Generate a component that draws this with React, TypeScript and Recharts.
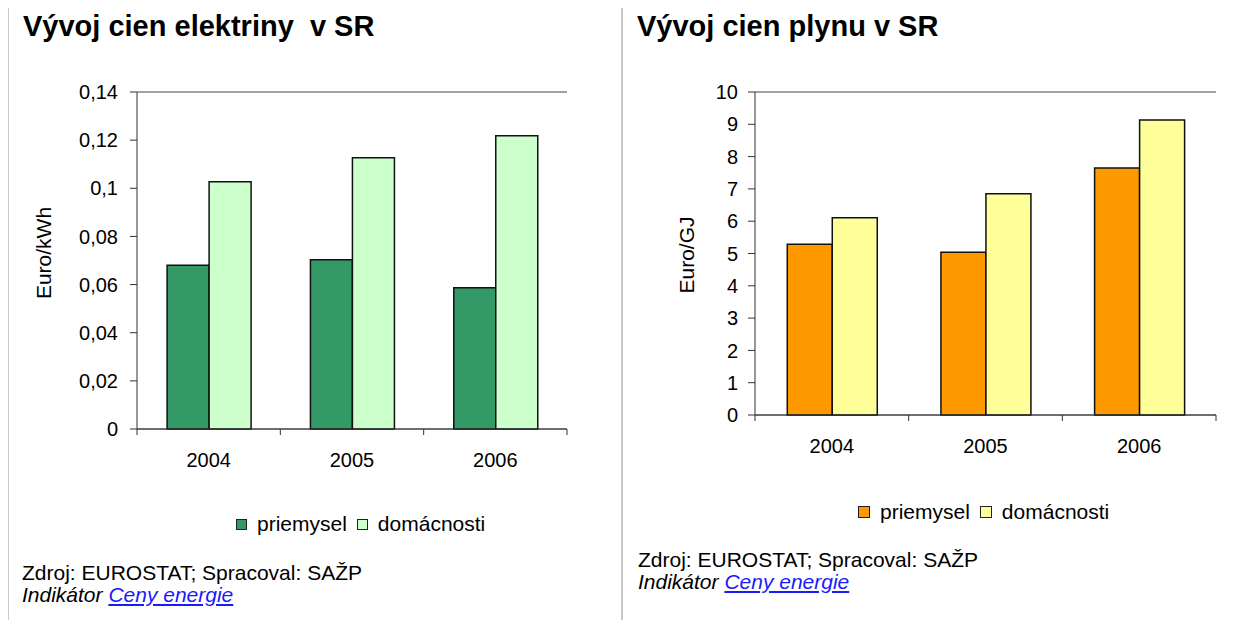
import React from "react";
import { BarChart, Bar, XAxis, YAxis, CartesianGrid, ReferenceLine } from "recharts";

const categories = ["2004", "2005", "2006"];
const seriesNames = ["priemysel", "domácnosti"];

const elPriemysel = [0.068, 0.0703, 0.0587];
const elDomacnosti = [0.1027, 0.1127, 0.1218];
const elTicks = [0, 0.02, 0.04, 0.06, 0.08, 0.1, 0.12, 0.14];

const plynPriemysel = [5.29, 5.04, 7.65];
const plynDomacnosti = [6.11, 6.85, 9.13];
const plynTicks = [0, 1, 2, 3, 4, 5, 6, 7, 8, 9, 10];

const elColors = ["#339966", "#CCFFCC"];
const plynColors = ["#FF9900", "#FFFF99"];

const FONT = "'Liberation Sans', Arial, sans-serif";

const elData = categories.map((c, i) => ({ rok: c, priemysel: elPriemysel[i], domacnosti: elDomacnosti[i] }));
const plynData = categories.map((c, i) => ({ rok: c, priemysel: plynPriemysel[i], domacnosti: plynDomacnosti[i] }));

const commaFmt = (v: number) => String(v).replace(".", ",");

function XTick(props: any) {
  const { x, y, payload, index, visibleTicksCount, width } = props;
  const half = payload && payload.offset ? payload.offset : width / visibleTicksCount / 2;
  const axisY = y - 24;
  return (
    <g>
      <line x1={x - half} x2={x - half} y1={axisY} y2={axisY + 6} stroke="#333" />
      {index === visibleTicksCount - 1 && (
        <line x1={x + half} x2={x + half} y1={axisY} y2={axisY + 6} stroke="#333" />
      )}
      <text x={x} y={y + 14} textAnchor="middle" fontSize={20} fontFamily={FONT} fill="#000">
        {payload.value}
      </text>
    </g>
  );
}

function Legend2({ colors, left, top, box }: { colors: string[]; left: number; top: number; box: number }) {
  return (
    <div
      style={{
        position: "absolute", left, top, height: 24, display: "flex", alignItems: "center",
        fontFamily: FONT, fontSize: 21, color: "#000", whiteSpace: "nowrap",
      }}
    >
      {seriesNames.map((n, i) => (
        <React.Fragment key={n}>
          <span style={{ width: box - 2, height: box - 2, background: colors[i], border: "1px solid #222", marginRight: 10 }} />
          <span style={{ marginRight: 10 }}>{n}</span>
        </React.Fragment>
      ))}
    </div>
  );
}

function Source({ left, top }: { left: number; top: number }) {
  return (
    <div style={{ position: "absolute", left, top, fontFamily: FONT, fontSize: 21, lineHeight: "22px", color: "#000", whiteSpace: "nowrap" }}>
      <div>Zdroj: EUROSTAT; Spracoval: SAŽP</div>
      <div style={{ fontStyle: "italic" }}>
        Indikátor <span style={{ color: "#1a1aff", textDecoration: "underline" }}>Ceny energie</span>
      </div>
    </div>
  );
}

function Panel(props: {
  data: any[]; ticks: number[]; colors: string[]; width: number; margin: any;
  tickMargin: number; fmt: (v: number) => string;
}) {
  const { data, ticks, colors, width, margin, tickMargin, fmt } = props;
  const max = ticks[ticks.length - 1];
  return (
    <BarChart width={width} height={500} data={data} margin={margin} barCategoryGap="21%" barGap={0}>
      <CartesianGrid vertical={false} stroke="#555" />
      <XAxis
        dataKey="rok"
        height={30}
        tickLine={false}
        tickSize={0}
        tickMargin={24}
        axisLine={{ stroke: "#333" }}
        tick={<XTick />}
        interval={0}
      />
      <YAxis
        yAxisId="l"
        width={60}
        domain={[0, max]}
        ticks={ticks}
        interval={0}
        tickFormatter={fmt}
        tickSize={7}
        tickMargin={tickMargin}
        axisLine={{ stroke: "#333" }}
        tickLine={{ stroke: "#333" }}
        tick={{ fill: "#000", fontSize: 20, fontFamily: FONT }}
      />
      <YAxis yAxisId="r" orientation="right" width={0} tick={false} tickLine={false} axisLine={{ stroke: "#999" }} />
      <ReferenceLine yAxisId="l" y={max} stroke="#999" />
      <Bar yAxisId="l" dataKey="priemysel" fill={colors[0]} stroke="#111" strokeWidth={1.5} isAnimationActive={false} />
      <Bar yAxisId="l" dataKey="domacnosti" fill={colors[1]} stroke="#111" strokeWidth={1.5} isAnimationActive={false} />
    </BarChart>
  );
}

const titleStyle: React.CSSProperties = {
  position: "absolute", top: 12, fontFamily: FONT, fontWeight: "bold", fontSize: 29,
  lineHeight: "29px", color: "#000", whiteSpace: "pre",
};

const yLabelStyle: React.CSSProperties = {
  position: "absolute", fontFamily: FONT, fontSize: 21, color: "#000", whiteSpace: "nowrap",
  transform: "translate(-50%, -50%) rotate(-90deg)", lineHeight: "22px",
};

export default function App() {
  return (
    <div style={{ position: "relative", width: 1245, height: 628, margin: -8, background: "#fff", overflow: "hidden" }}>
      <div style={{ position: "absolute", left: 7, top: 5, width: 1238, height: 2, background: "#c8c8c8" }} />
      <div style={{ position: "absolute", left: 7, top: 5, width: 2, height: 623, background: "#c8c8c8" }} />
      <div style={{ position: "absolute", left: 621, top: 5, width: 2, height: 623, background: "#c8c8c8" }} />

      <div style={{ ...titleStyle, left: 23 }}>{"Vývoj cien elektriny  v SR"}</div>
      <div style={{ ...titleStyle, left: 637 }}>Vývoj cien plynu v SR</div>

      <div style={{ position: "absolute", left: 0, top: 0 }}>
        <Panel
          data={elData}
          ticks={elTicks}
          colors={elColors}
          width={600}
          margin={{ top: 92, left: 77, right: 33, bottom: 41 }}
          tickMargin={12}
          fmt={commaFmt}
        />
      </div>
      <div style={{ position: "absolute", left: 622, top: 0 }}>
        <Panel
          data={plynData}
          ticks={plynTicks}
          colors={plynColors}
          width={623}
          margin={{ top: 92, left: 73, right: 29, bottom: 55 }}
          tickMargin={10}
          fmt={(v) => String(v)}
        />
      </div>

      <div style={{ ...yLabelStyle, left: 44, top: 253 }}>Euro/kWh</div>
      <div style={{ ...yLabelStyle, left: 687, top: 255 }}>Euro/GJ</div>

      <Legend2 colors={elColors} left={236} top={512} box={11} />
      <Legend2 colors={plynColors} left={858} top={500} box={12} />

      <Source left={22} top={562} />
      <Source left={638} top={549} />
    </div>
  );
}
